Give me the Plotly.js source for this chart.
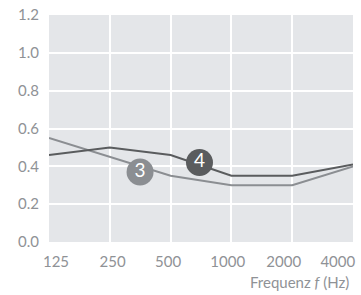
<!DOCTYPE html>
<html>
<head>
<meta charset="utf-8">
<script src="https://cdn.plot.ly/plotly-3.0.1.min.js"></script>
<style>html,body{margin:0;padding:0;background:#fff;}#chart{width:361px;height:295px;}</style>
</head>
<body>
<div id="chart"></div>
<script>
const freqs = [125, 250, 500, 1000, 2000, 4000];
const tickLabels = ['125', '250', '500', '1000', '2000', '4000'];
const series3 = [0.55, 0.45, 0.35, 0.30, 0.30, 0.40];
const series4 = [0.46, 0.50, 0.46, 0.35, 0.35, 0.41];
const badgeLabels = ['3', '4'];
const badgeFreqs = [353, 695];
const badgeValues = [0.37, 0.42];

const c3 = '#8b8e92';
const c4 = '#5a5c5e';
const textGray = '#8f9296';
const font = 'Lato, "Liberation Sans", Arial, sans-serif';

const tickPos = [0.115, 1.045, 1.959, 2.939, 3.861, 4.75];

const traces = [
  {x: freqs, y: series3, mode: 'lines', line: {color: c3, width: 2}, hoverinfo: 'skip', cliponaxis: false},
  {x: freqs, y: series4, mode: 'lines', line: {color: c4, width: 2}, hoverinfo: 'skip', cliponaxis: false},
  {x: badgeFreqs, y: badgeValues, mode: 'markers+text', text: badgeLabels,
   textposition: 'middle center', textfont: {color: '#ffffff', size: 19, family: font},
   marker: {size: 27, color: [c3, c4], line: {width: 0}}, hoverinfo: 'skip', cliponaxis: false},
  {x: [0, 5], y: [0, 0], xaxis: 'x2', yaxis: 'y', mode: 'markers',
   marker: {size: 1, opacity: 0}, hoverinfo: 'skip', showlegend: false}
];

const layout = {
  width: 361, height: 295,
  margin: {l: 49, r: 8, t: 15, b: 53},
  paper_bgcolor: '#ffffff',
  plot_bgcolor: '#e4e6e9',
  showlegend: false,
  font: {family: font, size: 15, color: textGray},
  xaxis: {
    type: 'log', range: [Math.log10(125), Math.log10(4000)],
    tickvals: freqs, showticklabels: false, ticks: '',
    showgrid: true, gridcolor: '#ffffff', gridwidth: 2,
    zeroline: false, showline: false, fixedrange: true
  },
  xaxis2: {
    overlaying: 'x', anchor: 'y', side: 'bottom',
    range: [0, 5], tickmode: 'array',
    tickvals: tickPos,
    ticktext: tickLabels, ticks: '', showgrid: false, zeroline: false, showline: false,
    ticklabelstandoff: 9,
    tickfont: {family: font, size: 15, color: textGray}
  },
  yaxis: {
    range: [0, 1.2], dtick: 0.2, tick0: 0, tickformat: '.1f', ticks: '',
    showgrid: true, gridcolor: '#ffffff', gridwidth: 2,
    zeroline: false, showline: false, ticklabelstandoff: 9,
    tickfont: {family: font, size: 15, color: textGray}
  },
  annotations: [{
    text: 'Frequenz <i>f</i> (Hz)', xref: 'paper', yref: 'paper',
    x: 0.995, y: -0.178, xanchor: 'right', yanchor: 'middle', showarrow: false,
    font: {family: font, size: 15, color: textGray}
  }]
};

Plotly.newPlot('chart', traces, layout, {displayModeBar: false, staticPlot: true});
</script>
</body>
</html>
